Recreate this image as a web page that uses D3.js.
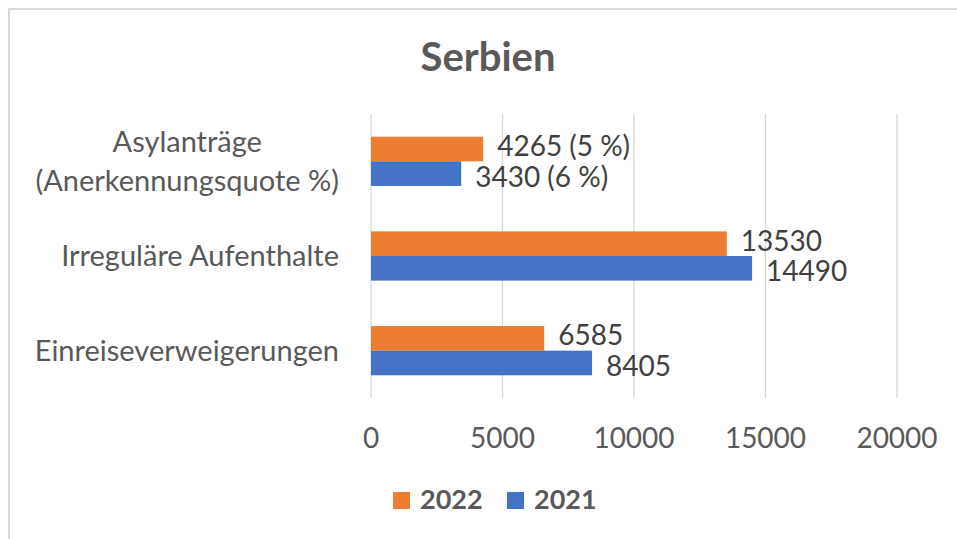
<!DOCTYPE html>
<html>
<head>
<meta charset="utf-8">
<script src="https://cdn.jsdelivr.net/npm/d3@7"></script>
<style>
  html, body { margin: 0; padding: 0; background: #fff; }
  svg { display: block; font-family: Lato, "Open Sans", sans-serif; }
</style>
</head>
<body>
<div id="chart"></div>
<script>
// Daten
const categories = ["Asylanträge (Anerkennungsquote %)", "Irreguläre Aufenthalte", "Einreiseverweigerungen"];
const catLines = [["Asylanträge", "(Anerkennungsquote %)"], ["Irreguläre Aufenthalte"], ["Einreiseverweigerungen"]];
const seriesNames = ["2022", "2021"];
const values2022 = [4265, 13530, 6585];
const values2021 = [3430, 14490, 8405];
const quote2022 = [5, null, null];
const quote2021 = [6, null, null];
const xTicks = [0, 5000, 10000, 15000, 20000];

const colors = { "2022": "#ED7D31", "2021": "#4472C4" };
const labelShift = { "2022": -3, "2021": 3 };

const W = 957, H = 539;
const svg = d3.select("#chart").append("svg").attr("width", W).attr("height", H);

// Rahmen
svg.append("line").attr("x1", 9).attr("x2", W).attr("y1", 9).attr("y2", 9)
  .attr("stroke", "#d9d9d9").attr("stroke-width", 2);
svg.append("line").attr("x1", 9).attr("x2", 9).attr("y1", 8).attr("y2", H)
  .attr("stroke", "#d9d9d9").attr("stroke-width", 2);

// Titel
svg.append("text").attr("x", 488).attr("y", 71).attr("text-anchor", "middle")
  .style("font-size", "40px").style("font-weight", 700).style("fill", "#595959")
  .text("Serbien");

const x = d3.scaleLinear().domain([0, 20000]).range([371, 897]);
const y = d3.scaleBand().domain(categories).range([114, 398]).paddingInner(0.48).paddingOuter(0.24);
const ys = d3.scaleBand().domain(seriesNames).range([0, y.bandwidth()]);

// Gitternetz
svg.append("g").selectAll("line").data(xTicks).join("line")
  .attr("x1", d => x(d)).attr("x2", d => x(d))
  .attr("y1", 114).attr("y2", 398)
  .attr("stroke", "#d9d9d9").attr("stroke-width", 1.3);

// Achsenbeschriftung
svg.append("g").selectAll("text").data(xTicks).join("text")
  .attr("x", d => x(d)).attr("y", 448).attr("text-anchor", "middle")
  .style("font-size", "28px").style("fill", "#595959")
  .text(d => d);

// Kategorien
const catG = svg.append("g");
categories.forEach((c, i) => {
  const lines = catLines[i];
  const lh = 39;
  const cy = y(c) + y.bandwidth() / 2;
  const t = catG.append("g");
  const texts = lines.map((l, j) => t.append("text")
    .attr("y", cy + (j - (lines.length - 1) / 2) * lh + 10)
    .attr("text-anchor", "middle")
    .style("font-size", "29px").style("fill", "#595959")
    .text(l));
  const maxW = d3.max(texts, s => s.node().getComputedTextLength());
  texts.forEach(s => s.attr("x", 339 - maxW / 2));
});

// Balken
const rows = categories.map((c, i) => [
  { cat: c, s: "2022", v: values2022[i], q: quote2022[i] },
  { cat: c, s: "2021", v: values2021[i], q: quote2021[i] }
]).flat();

svg.append("g").selectAll("rect").data(rows).join("rect")
  .attr("x", x(0)).attr("width", d => x(d.v) - x(0))
  .attr("y", d => y(d.cat) + ys(d.s)).attr("height", ys.bandwidth())
  .attr("fill", d => colors[d.s]);

svg.append("g").selectAll("text").data(rows).join("text")
  .attr("x", d => x(d.v) + 14)
  .attr("y", d => y(d.cat) + ys(d.s) + ys.bandwidth() / 2 + 10 + labelShift[d.s])
  .style("font-size", "28px").style("fill", "#404040")
  .text(d => d.v + (d.q != null ? ` (${d.q} %)` : ""));

// Legende
const leg = [{ s: "2022", x: 393 }, { s: "2021", x: 507 }];
const lg = svg.append("g");
leg.forEach(l => {
  lg.append("rect").attr("x", l.x).attr("y", 492).attr("width", 17).attr("height", 17)
    .attr("fill", colors[l.s]);
  lg.append("text").attr("x", l.x + 27).attr("y", 509)
    .style("font-size", "27px").style("font-weight", 700).style("fill", "#595959")
    .text(l.s);
});
</script>
</body>
</html>
